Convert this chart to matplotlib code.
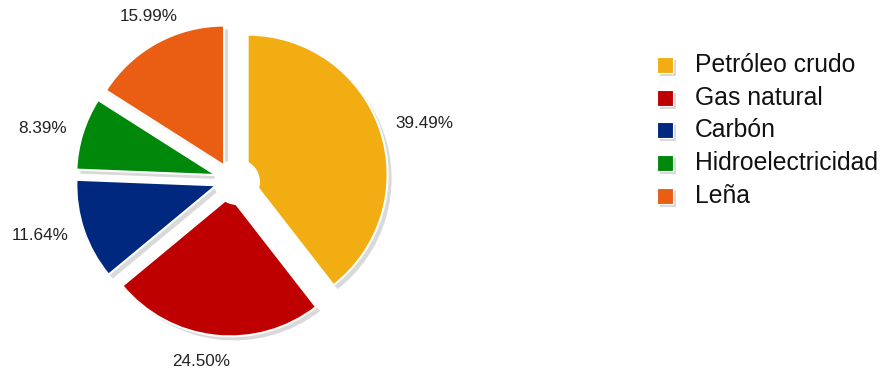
import matplotlib
matplotlib.use("Agg")
import matplotlib.pyplot as plt
from matplotlib.patches import Wedge, Circle, Rectangle
import numpy as np

categories = ["Petróleo crudo", "Gas natural", "Carbón", "Hidroelectricidad", "Leña"]
values = [39.49, 24.50, 11.64, 8.39, 15.99]
colors = ["#F2AD12", "#BF0000", "#00287F", "#00880A", "#E95E12"]

plt.rcParams['font.family'] = ['Liberation Sans', 'DejaVu Sans']

W, H = 885, 370
fig = plt.figure(figsize=(W / 100, H / 100), dpi=100)
ax = fig.add_axes([0, 0, 1, 1])

cx, cy = 232, 190
R = 140
explode = [16.5] * len(values)

wedges, _ = ax.pie(values, colors=colors, startangle=90, counterclock=False,
                   radius=R, center=(cx, cy), explode=explode,
                   wedgeprops=dict(edgecolor='white', linewidth=1.5),
                   frame=True)
ax.set_xlim(0, W)
ax.set_ylim(0, H)
ax.set_aspect('equal')
ax.axis('off')

# shadows
for w in wedges:
    c = w.center
    sh = Wedge((c[0] + 4, c[1] - 4), w.r, w.theta1, w.theta2,
               facecolor='#d9d9d9', edgecolor='none', zorder=w.get_zorder() - 0.5)
    ax.add_patch(sh)

# center hole
ax.add_patch(Circle((cx + 5, cy - 2), 23, facecolor='white', edgecolor='none', zorder=5))

# percentage labels
total = sum(values)
start = 90.0
for v in values:
    frac = v / total * 360
    mid = np.deg2rad(start - frac / 2)
    start -= frac
    dist = 173
    x = cx + dist * np.cos(mid)
    y = cy + dist * np.sin(mid)
    c, s = np.cos(mid), np.sin(mid)
    ha = 'center' if abs(c) < 0.6 else ('left' if c > 0 else 'right')
    va = 'center'
    if s > 0.6:
        va = 'bottom'
        y += 4
    elif s < -0.6:
        va = 'top'
        y -= 2
        x -= 12
    ax.text(x, y, f"{v:.2f}%", ha=ha, va=va, fontsize=12.3, color='#222222')

# legend
lx, ly0, step, sq = 657, H - 65, -32.7, 16
for i, (lab, col) in enumerate(zip(categories, colors)):
    yc = ly0 + i * step
    ax.add_patch(Rectangle((lx + 3, yc - sq / 2 - 3), sq, sq, facecolor='#d9d9d9', edgecolor='none'))
    ax.add_patch(Rectangle((lx, yc - sq / 2), sq, sq, facecolor=col, edgecolor='white', linewidth=0.8))
    ax.text(lx + 38, yc, lab, ha='left', va='center', fontsize=17.8, color='#111111')

fig.savefig("out.png", dpi=100)
